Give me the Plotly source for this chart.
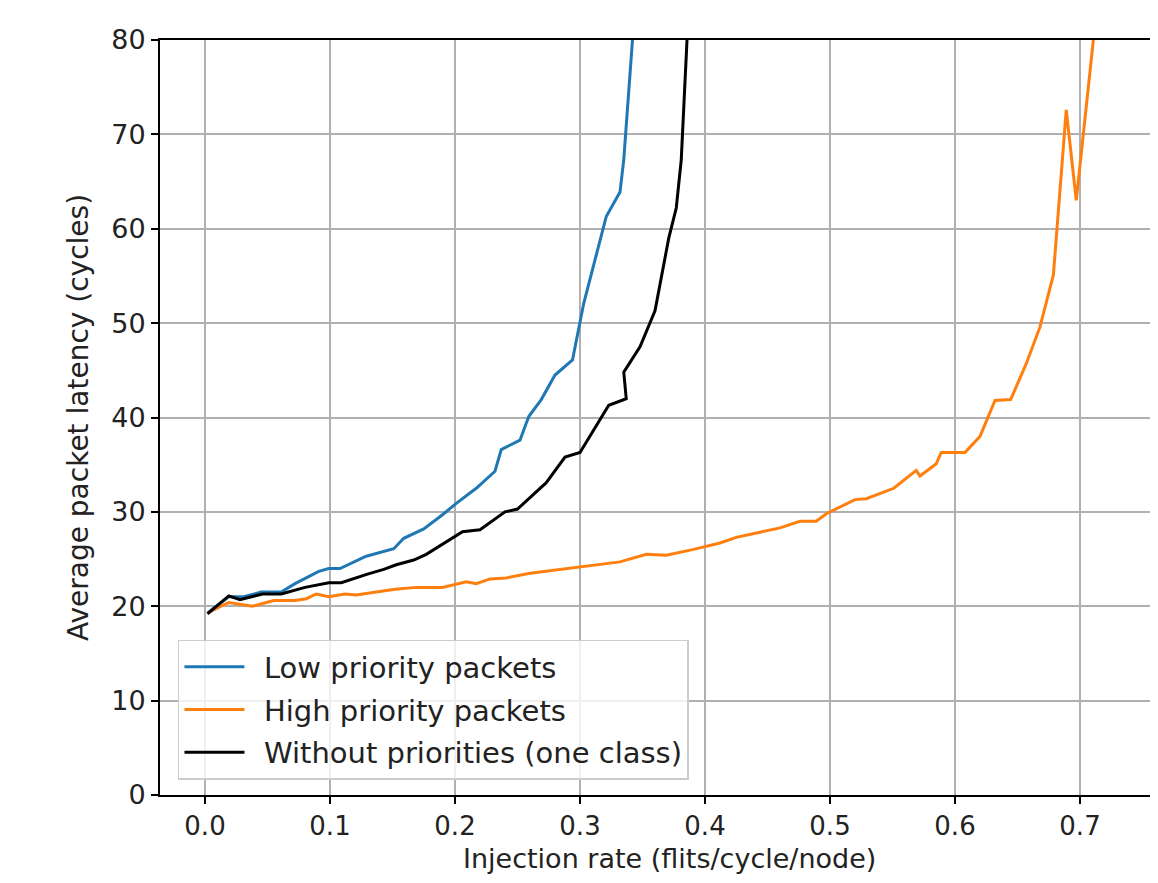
import plotly.graph_objects as go

# Low priority packets
low_x = [0.002, 0.019, 0.031, 0.045, 0.061, 0.072, 0.091, 0.099, 0.108, 0.122, 0.129, 0.151, 0.159,
         0.175, 0.19, 0.201, 0.217, 0.232, 0.237, 0.252, 0.259, 0.269, 0.28, 0.294, 0.303, 0.321,
         0.332, 0.335, 0.346]
low_y = [19.3, 21.0, 21.0, 21.5, 21.5, 22.4, 23.7, 24.0, 24.0, 24.9, 25.3, 26.1, 27.2,
         28.2, 29.7, 30.9, 32.5, 34.3, 36.6, 37.6, 40.1, 41.9, 44.5, 46.1, 52.1, 61.3,
         63.9, 67.3, 87.3]

# High priority packets
high_x = [0.002, 0.019, 0.038, 0.055, 0.072, 0.081, 0.089, 0.099, 0.112, 0.121, 0.137, 0.152,
          0.169, 0.19, 0.209, 0.217, 0.228, 0.241, 0.26, 0.284, 0.303, 0.332, 0.353, 0.369,
          0.39, 0.412, 0.425, 0.44, 0.46, 0.476, 0.489, 0.497, 0.505, 0.52, 0.529, 0.537,
          0.551, 0.569, 0.572, 0.585, 0.589, 0.608, 0.62, 0.632, 0.6445, 0.657, 0.668,
          0.6787, 0.689, 0.697, 0.716]
high_y = [19.3, 20.4, 20.0, 20.6, 20.6, 20.8, 21.3, 21.0, 21.3, 21.2, 21.5, 21.8,
          22.0, 22.0, 22.6, 22.4, 22.9, 23.0, 23.5, 23.9, 24.2, 24.7, 25.5, 25.4,
          26.0, 26.7, 27.3, 27.7, 28.3, 29.0, 29.0, 29.8, 30.3, 31.3, 31.4, 31.8,
          32.5, 34.4, 33.8, 35.1, 36.3, 36.3, 38.0, 41.8, 41.9, 45.7, 49.6,
          55.1, 72.6, 63.0, 86.6]

# Without priorities (one class)
one_x = [0.002, 0.019, 0.028, 0.046, 0.061, 0.08, 0.099, 0.109, 0.13, 0.143, 0.153, 0.167,
         0.177, 0.188, 0.201, 0.206, 0.22, 0.231, 0.24, 0.25, 0.26, 0.273, 0.288, 0.3,
         0.323, 0.337, 0.335, 0.348, 0.36, 0.371, 0.377, 0.381, 0.388]
one_y = [19.2, 21.1, 20.7, 21.3, 21.3, 22.0, 22.5, 22.5, 23.4, 23.9, 24.4, 24.9,
         25.5, 26.4, 27.4, 27.9, 28.1, 29.1, 30.0, 30.3, 31.5, 33.1, 35.8, 36.3,
         41.3, 42.0, 44.8, 47.5, 51.3, 59.0, 62.2, 67.3, 86.6]

x_ticks = [0, 0.1, 0.2, 0.3, 0.4, 0.5, 0.6, 0.7]
x_ticklabels = ["0.0", "0.1", "0.2", "0.3", "0.4", "0.5", "0.6", "0.7"]
y_ticks = [0, 10, 20, 30, 40, 50, 60, 70, 80]

names = ["Low priority packets", "High priority packets", "Without priorities (one class)"]
colors = ["#1f77b4", "#ff7f0e", "#000000"]
x_title = "Injection rate (flits/cycle/node)"
y_title = "Average packet latency (cycles)"

FONT = "DejaVu Sans"
TXT = "#222222"

fig = go.Figure()
for i, (xs, ys) in enumerate([(low_x, low_y), (high_x, high_y), (one_x, one_y)]):
    fig.add_trace(go.Scatter(x=xs, y=ys, mode="lines", name="\u2002" + names[i],
                             legendgroup=f"g{i}",
                             line=dict(color=colors[i], width=3)))

# page body has an 8px margin: size the figure so it fits the 1158x883 window
fig.update_layout(
    width=1150, height=867,
    margin=dict(l=152, r=0, t=32, b=80, autoexpand=False),
    paper_bgcolor="white", plot_bgcolor="white",
    font=dict(family=FONT, size=26, color=TXT),
    showlegend=True,
    legend=dict(x=0.018, y=0.02, xanchor="left", yanchor="bottom",
                bgcolor="rgba(255,255,255,0.8)", bordercolor="#cccccc", borderwidth=1.5,
                font=dict(family=FONT, size=29, color=TXT),
                itemwidth=60,
                traceorder="grouped", tracegroupgap=2),
    xaxis=dict(range=[-0.036, 0.7624], tickvals=x_ticks, ticktext=x_ticklabels,
               automargin=False,
               showgrid=True, gridcolor="#b0b0b0", gridwidth=1.6,
               showline=True, linecolor="black", linewidth=2, mirror=True,
               ticks="outside", ticklen=7, tickwidth=2, tickcolor="black",
               zeroline=False,
               tickfont=dict(family=FONT, size=26, color=TXT)),
    yaxis=dict(range=[0, 80], tickvals=y_ticks,
               automargin=False,
               showgrid=True, gridcolor="#b0b0b0", gridwidth=1.6,
               showline=True, linecolor="black", linewidth=2, mirror=False,
               ticks="outside", ticklen=7, tickwidth=2, tickcolor="black",
               zeroline=False,
               title=dict(text=y_title, standoff=14,
                          font=dict(family=FONT, size=28, color=TXT)),
               tickfont=dict(family=FONT, size=27, color=TXT)),
    annotations=[dict(text=x_title, xref="paper", yref="paper",
                      x=0.511, y=-0.0845, xanchor="center", yanchor="middle",
                      borderpad=0,
                      showarrow=False, font=dict(family=FONT, size=27, color=TXT))],
)

fig.write_html("out.html")
